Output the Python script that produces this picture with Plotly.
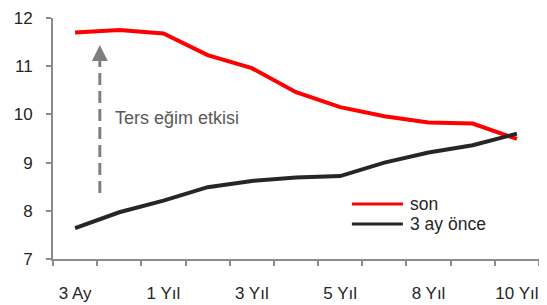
import plotly.graph_objects as go

categories = ["3 Ay", "6 Ay", "1 Yıl", "2 Yıl", "3 Yıl", "4 Yıl", "5 Yıl", "7 Yıl", "8 Yıl", "9 Yıl", "10 Yıl"]
shown_labels = ["3 Ay", "", "1 Yıl", "", "3 Yıl", "", "5 Yıl", "", "8 Yıl", "", "10 Yıl"]
son = [11.70, 11.75, 11.68, 11.23, 10.96, 10.46, 10.15, 9.96, 9.83, 9.81, 9.49]
once = [7.64, 7.97, 8.21, 8.49, 8.62, 8.69, 8.72, 9.00, 9.21, 9.36, 9.60]
series_names = ["son", "3 ay önce"]
series_colors = ["#FF0000", "#262626"]
annotation_text = "Ters eğim etkisi"

FONT = "Liberation Sans, Arial, sans-serif"
AXIS = "#8c8c8c"

fig = go.Figure()
fig.add_trace(go.Scatter(x=categories, y=son, mode="lines", name=series_names[0],
                         line=dict(color=series_colors[0], width=4), showlegend=False))
fig.add_trace(go.Scatter(x=categories, y=once, mode="lines", name=series_names[1],
                         line=dict(color=series_colors[1], width=4), showlegend=False))

# dashed arrow
ax = 0.56
fig.add_shape(type="line", xref="x", yref="y", x0=ax, x1=ax, y0=8.37, y1=11.11,
              line=dict(color="#7f7f7f", width=3, dash="12px,6px"))
fig.add_shape(type="path", xref="x", yref="y",
              path=f"M {ax-0.18},11.11 L {ax+0.18},11.11 L {ax},11.44 Z",
              fillcolor="#7f7f7f", line=dict(width=0))
fig.add_annotation(xref="x", yref="y", x=0.86, y=9.93, text=annotation_text, showarrow=False,
                   xanchor="left", yanchor="middle", font=dict(family=FONT, size=18, color="#595959"))

# manual legend
for i, (nm, col) in enumerate(zip(series_names, series_colors)):
    yp = [0.228, 0.145][i]
    fig.add_shape(type="line", xref="paper", yref="paper", x0=0.615, x1=0.720, y0=yp, y1=yp,
                  line=dict(color=col, width=3))
    fig.add_annotation(xref="paper", yref="paper", x=0.733, y=yp, text=nm, showarrow=False,
                       xanchor="left", yanchor="middle", borderpad=0,
                       font=dict(family=FONT, size=17.5, color="#262626"))

# page body has an 8px margin, so the figure is sized to fill the remaining window
fig.update_layout(
    width=539, height=297,
    margin=dict(l=45, r=8, t=10, b=46, autoexpand=False),
    plot_bgcolor="white", paper_bgcolor="white",
    font=dict(family=FONT, size=17, color="#262626"),
    showlegend=False,
)
fig.update_xaxes(type="category", range=[-0.5, 10.5], tickmode="array",
                 tickvals=categories, ticktext=shown_labels, tickson="boundaries",
                 ticks="outside", ticklen=5, tickcolor=AXIS, tickwidth=1.5, tickangle=0,
                 showline=True, linecolor=AXIS, linewidth=2, showgrid=False, automargin=False,
                 ticklabelstandoff=18, zeroline=False)
fig.update_yaxes(range=[7, 12], dtick=1, tick0=7, ticks="outside", ticklen=5, tickcolor=AXIS,
                 tickwidth=1.5, showline=True, linecolor=AXIS, linewidth=2, showgrid=False,
                 automargin=False, zeroline=False, ticklabelstandoff=10)

fig.write_html("out.html")
